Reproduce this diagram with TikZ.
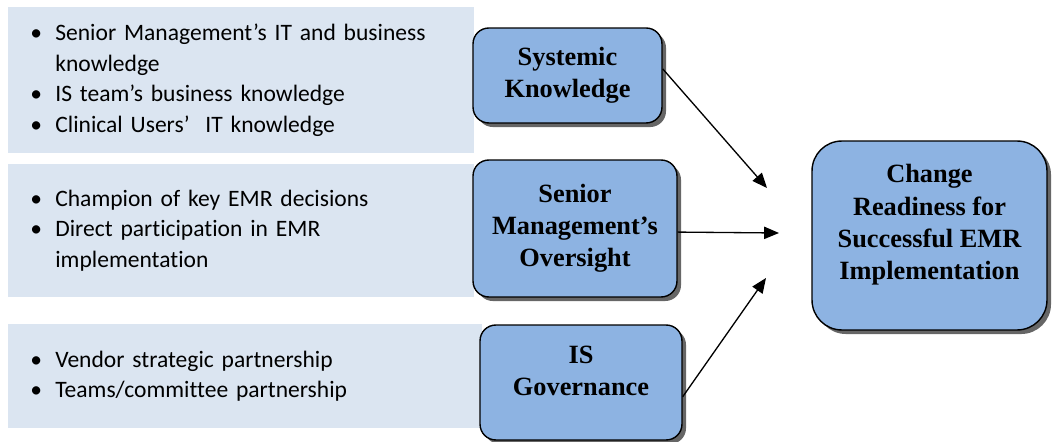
\documentclass[tikz,border=0pt]{standalone}
\usepackage{fontspec}
\setmainfont{Liberation Serif}
\newfontfamily\listfont[Ligatures=NoCommon]{Carlito}
\usetikzlibrary{arrows.meta,shadows}
\definecolor{panelfill}{HTML}{DBE5F1}
\definecolor{boxfill}{HTML}{8DB3E2}

\begin{document}
\begin{tikzpicture}[x=0.02cm,y=-0.02cm]
  \tikzstyle{panel}=[fill=panelfill, inner xsep=0.44cm, inner ysep=0pt, text width=8.44cm, align=left, anchor=north west, font=\listfont\fontsize{13.4}{17.3}\selectfont]
  \tikzstyle{factor}=[draw=black, line width=0.8pt, fill=boxfill, rounded corners=9pt, inner sep=0pt, align=center, font=\bfseries\fontsize{15}{18.3}\selectfont, drop shadow={shadow xshift=2.3pt, shadow yshift=-2.3pt, fill=black!60, opacity=1}]
  \tikzstyle{link}=[line width=0.75pt, -{Triangle[length=8.5pt,width=7pt]}]
  \useasboundingbox (0,0) rectangle (1052,442);

  \node[panel, minimum height=2.92cm] (sysItems) at (8,7) {%
    \begin{tabular}{@{}p{0.5cm}@{}l@{}}
      \textbullet & Senior Management’s IT and business\\
                  & knowledge\\
      \textbullet & IS team’s business knowledge\\
      \textbullet & Clinical Users’~ IT knowledge
    \end{tabular}};
  \node[panel, minimum height=2.66cm] (smoItems) at (8,164) {%
    \begin{tabular}{@{}p{0.5cm}@{}l@{}}
      \textbullet & Champion of key EMR decisions\\
      \textbullet & Direct participation in EMR\\
                  & implementation
    \end{tabular}};
  \node[panel, minimum height=2.08cm, text width=8.6cm] (isgItems) at (8,324) {%
    \begin{tabular}{@{}p{0.5cm}@{}l@{}}
      \textbullet & Vendor strategic partnership\\
      \textbullet & Teams/committee partnership
    \end{tabular}};

  \node[factor, minimum width=3.78cm, minimum height=1.9cm] (sysk) at (567.5,75.5) {Systemic\\Knowledge};
  \node[factor, minimum width=4.08cm, minimum height=2.74cm] (smo) at (575,228.5) {Senior\\Management’s\\Oversight};
  \node[factor, minimum width=4.04cm, minimum height=2.3cm] (isg) at (581,382.5) {IS\\Governance\\[-5pt]\mbox{}};
  \node[factor, minimum width=4.7cm, minimum height=3.78cm, rounded corners=17pt] (ready) at (929.5,235.5) {Change\\Readiness for\\Successful EMR\\Implementation\\[-3pt]\mbox{}};

  \coordinate (tipA) at (767,188);
  \coordinate (tipB) at (779,233);
  \coordinate (tipC) at (766,278);
  \draw[link] (sysk.4) -- (tipA);
  \draw[link] (smo.-2.5) -- (tipB);
  \draw[link] (isg.-8) -- (tipC);
\end{tikzpicture}
\end{document}
